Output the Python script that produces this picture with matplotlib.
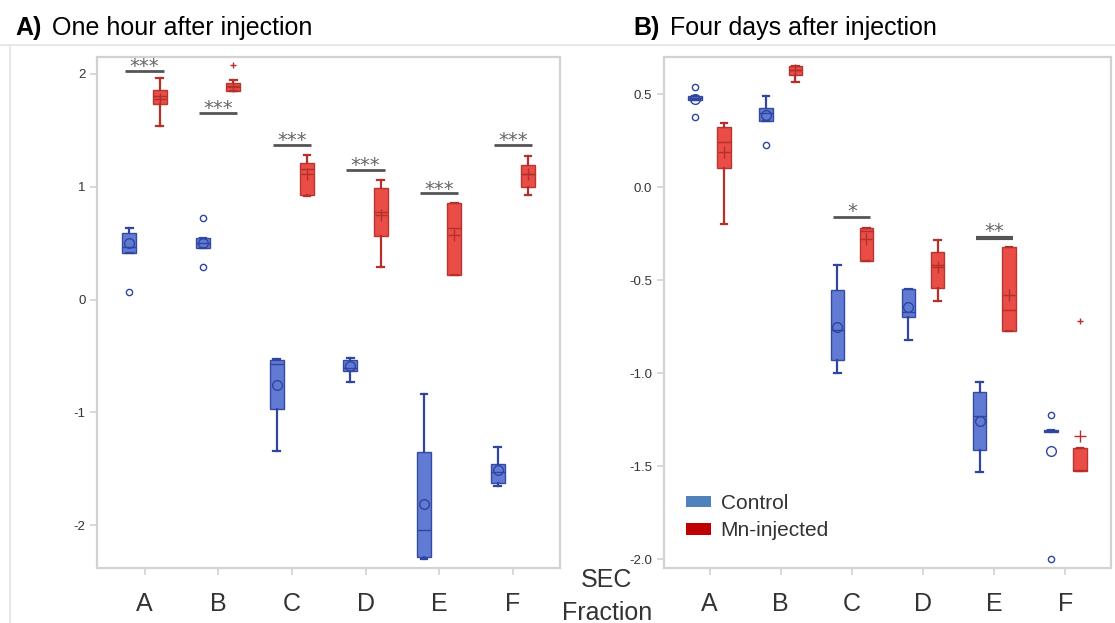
import numpy as np
import matplotlib
matplotlib.use("Agg")
import matplotlib.pyplot as plt
from matplotlib.patches import Patch
from matplotlib.lines import Line2D

plt.rcParams['font.family'] = ['Liberation Sans', 'DejaVu Sans']

fractions = ['A', 'B', 'C', 'D', 'E', 'F']

# ---- A) one hour after injection ----
ctrl_1h_lo   = [0.41, 0.46, -1.34, -0.73, -2.30, -1.65]
ctrl_1h_q1   = [0.41, 0.46, -0.97, -0.63, -2.28, -1.63]
ctrl_1h_med  = [0.47, 0.50, -0.57, -0.61, -2.04, -1.53]
ctrl_1h_mean = [0.50, 0.50, -0.76, -0.59, -1.81, -1.51]
ctrl_1h_q3   = [0.59, 0.545, -0.54, -0.54, -1.35, -1.46]
ctrl_1h_hi   = [0.63, 0.545, -0.53, -0.52, -0.84, -1.31]
ctrl_1h_out  = [[0.07], [0.72, 0.29], [], [], [], []]

mn_1h_lo   = [1.54, 1.85, 0.92, 0.29, 0.22, 0.93]
mn_1h_q1   = [1.73, 1.85, 0.93, 0.56, 0.22, 1.00]
mn_1h_med  = [1.80, 1.88, 1.16, 0.78, 0.63, 1.11]
mn_1h_mean = [1.78, 1.89, 1.11, 0.75, 0.57, 1.11]
mn_1h_q3   = [1.86, 1.92, 1.21, 0.99, 0.86, 1.19]
mn_1h_hi   = [1.96, 1.95, 1.28, 1.06, 0.86, 1.27]
mn_1h_out  = [[], [2.08], [], [], [], []]

sig_1h_y   = [2.03, 1.65, 1.37, 1.15, 0.94, 1.37]
sig_1h_txt = ['***', '***', '***', '***', '***', '***']

# ---- B) four days after injection ----
ctrl_4d_lo   = [0.468, 0.358, -1.00, -0.82, -1.53, -1.31]
ctrl_4d_q1   = [0.468, 0.358, -0.93, -0.70, -1.416, -1.315]
ctrl_4d_med  = [0.48, 0.40, -0.77, -0.67, -1.23, -1.31]
ctrl_4d_mean = [0.475, 0.39, -0.75, -0.645, -1.26, -1.42]
ctrl_4d_q3   = [0.489, 0.427, -0.555, -0.546, -1.10, -1.305]
ctrl_4d_hi   = [0.489, 0.489, -0.42, -0.546, -1.05, -1.305]
ctrl_4d_out  = [[0.54, 0.38], [0.228], [], [], [], [-1.224, -2.0]]

mn_4d_lo   = [-0.196, 0.566, -0.399, -0.612, -0.774, -1.525]
mn_4d_q1   = [0.103, 0.603, -0.399, -0.543, -0.774, -1.525]
mn_4d_med  = [0.245, 0.628, -0.238, -0.42, -0.66, -1.52]
mn_4d_mean = [0.187, 0.628, -0.28, -0.427, -0.58, -1.339]
mn_4d_q3   = [0.326, 0.653, -0.217, -0.35, -0.324, -1.403]
mn_4d_hi   = [0.343, 0.653, -0.217, -0.283, -0.324, -1.403]
mn_4d_out  = [[], [], [], [], [], [-0.722]]

sig_4d_idx = [2, 4]
sig_4d_y   = [-0.16, -0.272]
sig_4d_txt = ['*', '**']

CTRL_FILL, CTRL_EDGE = '#5874d2', '#2f45a0'
MN_FILL, MN_EDGE = '#e8433c', '#b3302b'
GRID_GRAY = '#d2d2d2'
TEXT = '#333333'


def make_stats(lo, q1, med, mean, q3, hi, out):
    return [dict(whislo=a, q1=b, med=c, mean=d, q3=e, whishi=f, fliers=g)
            for a, b, c, d, e, f, g in zip(lo, q1, med, mean, q3, hi, out)]


def draw_group(ax, stats, pos, fill, edge, mean_marker, flier_marker, mean_ms):
    ax.bxp(stats, positions=pos, widths=0.19, capwidths=0.09,
           patch_artist=True, showmeans=True, manage_ticks=False,
           boxprops=dict(facecolor=fill, edgecolor=edge, linewidth=1.0, alpha=0.95),
           medianprops=dict(color=edge, linewidth=1.0),
           whiskerprops=dict(color=edge, linewidth=1.6),
           capprops=dict(color=edge, linewidth=1.6),
           meanprops=dict(marker=mean_marker, markerfacecolor='none',
                          markeredgecolor=edge, markersize=mean_ms, markeredgewidth=1.0),
           flierprops=dict(marker=flier_marker, markerfacecolor='none',
                           markeredgecolor=edge, markersize=4.5, markeredgewidth=1.0))


def style_axis(ax, ylim, yticks, ylabels):
    x = np.arange(1, len(fractions) + 1)
    ax.set_xlim(0.36, 6.64)
    ax.set_ylim(*ylim)
    ax.set_xticks(x)
    ax.set_xticklabels(fractions, fontsize=18, color=TEXT)
    ax.set_yticks(yticks)
    ax.set_yticklabels(ylabels, fontsize=9.5, color=TEXT)
    ax.tick_params(axis='both', colors=GRID_GRAY, length=5, width=1.2,
                   labelcolor=TEXT)
    ax.tick_params(axis='x', pad=12)
    for sp in ax.spines.values():
        sp.set_color(GRID_GRAY)
        sp.set_linewidth(1.6)


def sig_bar(ax, xc, y, txt, lw=2.0, dy=0.01):
    ax.plot([xc - 0.26, xc + 0.26], [y, y], color='#555555', lw=lw,
            solid_capstyle='butt')
    ax.text(xc, y + dy, txt, ha='center', va='bottom', fontsize=14,
            color='#666666', family='DejaVu Sans')


fig = plt.figure(figsize=(11.15, 6.23), dpi=100)
axA = fig.add_axes([0.0874, 0.0883, 0.4148, 0.8202])
axB = fig.add_axes([0.5955, 0.0883, 0.4009, 0.8202])

x = np.arange(1, len(fractions) + 1)
off = 0.205

# panel A
draw_group(axA, make_stats(ctrl_1h_lo, ctrl_1h_q1, ctrl_1h_med, ctrl_1h_mean,
                           ctrl_1h_q3, ctrl_1h_hi, ctrl_1h_out),
           x - off, CTRL_FILL, CTRL_EDGE, 'o', 'o', 7)
draw_group(axA, make_stats(mn_1h_lo, mn_1h_q1, mn_1h_med, mn_1h_mean,
                           mn_1h_q3, mn_1h_hi, mn_1h_out),
           x + off, MN_FILL, MN_EDGE, '+', '+', 8)
for xi, yi, t in zip(x, sig_1h_y, sig_1h_txt):
    sig_bar(axA, xi, yi, t, dy=-0.045)
style_axis(axA, (-2.38, 2.15), [-2, -1, 0, 1, 2], ['-2', '-1', '0', '1', '2'])

# panel B
draw_group(axB, make_stats(ctrl_4d_lo, ctrl_4d_q1, ctrl_4d_med, ctrl_4d_mean,
                           ctrl_4d_q3, ctrl_4d_hi, ctrl_4d_out),
           x - off, CTRL_FILL, CTRL_EDGE, 'o', 'o', 7)
draw_group(axB, make_stats(mn_4d_lo, mn_4d_q1, mn_4d_med, mn_4d_mean,
                           mn_4d_q3, mn_4d_hi, mn_4d_out),
           x + off, MN_FILL, MN_EDGE, '+', '+', 8)
for i, yi, t, lw in zip(sig_4d_idx, sig_4d_y, sig_4d_txt, [2.0, 3.0]):
    sig_bar(axB, x[i], yi, t, lw=lw, dy=-0.02)
bt = [-2.0, -1.5, -1.0, -0.5, 0.0, 0.5]
style_axis(axB, (-2.048, 0.70), bt, [f'{v:.1f}' for v in bt])

handles = [Patch(facecolor='#4f81bd', edgecolor='none', label='Control'),
           Patch(facecolor='#c00000', edgecolor='none', label='Mn-injected')]
axB.legend(handles=handles, loc='upper left', bbox_to_anchor=(0.05, 0.145),
           frameon=False, fontsize=15, handlelength=1.2, handleheight=0.5,
           handletextpad=0.45, labelspacing=0.4, borderpad=0, borderaxespad=0,
           labelcolor=TEXT)

# titles
fig.text(15 / 1115, 1 - 35 / 623, 'A)', fontsize=18, fontweight='bold',
         va='baseline', ha='left')
fig.text(52 / 1115, 1 - 35 / 623, 'One hour after injection', fontsize=18,
         va='baseline', ha='left')
fig.text(633 / 1115, 1 - 35 / 623, 'B)', fontsize=18, fontweight='bold',
         va='baseline', ha='left')
fig.text(670 / 1115, 1 - 35 / 623, 'Four days after injection', fontsize=18,
         va='baseline', ha='left')

# x axis title between panels
fig.text(607 / 1115, 1 - 587 / 623, 'SEC', fontsize=18, color=TEXT,
         ha='center', va='baseline')
fig.text(607 / 1115, 1 - 620 / 623, 'Fraction', fontsize=18, color=TEXT,
         ha='center', va='baseline')

# faint outer frame
fig.add_artist(Line2D([0, 1], [1 - 45 / 623, 1 - 45 / 623],
                      transform=fig.transFigure, color='#e4e4e4', lw=1.2))
fig.add_artist(Line2D([10 / 1115, 10 / 1115], [0, 1 - 45 / 623],
                      transform=fig.transFigure, color='#e4e4e4', lw=1.2))

fig.savefig('out.png', dpi=100)
